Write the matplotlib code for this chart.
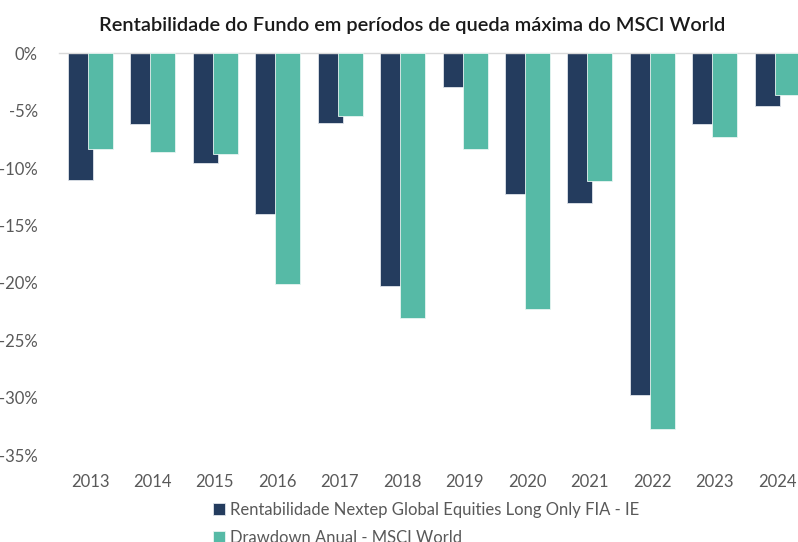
import matplotlib
matplotlib.use("Agg")
import matplotlib.pyplot as plt
import numpy as np

years = ["2013", "2014", "2015", "2016", "2017", "2018", "2019", "2020", "2021", "2022", "2023", "2024"]
fund = [-11.0, -6.2, -9.6, -14.0, -6.1, -20.3, -2.9, -12.3, -13.0, -29.8, -6.2, -4.6]
msci = [-8.3, -8.6, -8.8, -20.1, -5.5, -23.1, -8.3, -22.3, -11.1, -32.7, -7.3, -3.6]
yticks = [0, -5, -10, -15, -20, -25, -30, -35]
ytick_labels = ["0%", "-5%", "-10%", "-15%", "-20%", "-25%", "-30%", "-35%"]
series_names = ["Rentabilidade Nextep Global Equities Long Only FIA - IE",
                "Drawdown Anual - MSCI World"]
title = "Rentabilidade do Fundo em períodos de queda máxima do MSCI World"

plt.rcParams['font.family'] = ['Lato', 'DejaVu Sans']
navy = "#243C5E"
teal = "#56BAA6"
gray = "#595959"

W, H = 798, 542
fig = plt.figure(figsize=(W / 100, H / 100), dpi=100)
left = 58.8 / W
width = 749.4 / W
top = 1 - 53.3 / H
bottom = 1 - 455 / H
ax = fig.add_axes([left, bottom, width, top - bottom])

x = np.arange(len(years))
bw = 0.4
ax.bar(x - 0.155, fund, bw, color=navy, edgecolor="#dfe4ea", linewidth=0.6,
       label=series_names[0], zorder=2)
ax.bar(x + 0.165, msci, bw, color=teal, edgecolor="#e8f5f2", linewidth=0.6,
       label=series_names[1], zorder=3)

ax.set_xlim(-0.5, len(years) - 0.5)
ax.set_ylim(-35, 0)
ax.set_yticks(yticks)
ax.set_yticklabels(ytick_labels)
ax.set_xticks(x)
ax.set_xticklabels(years)

for s in ["left", "right", "bottom"]:
    ax.spines[s].set_visible(False)
ax.spines["top"].set_color("#d9d9d9")
ax.spines["top"].set_linewidth(1.0)
ax.tick_params(axis="both", length=0, colors=gray, labelsize=12)
ax.tick_params(axis="y", pad=15)
ax.tick_params(axis="x", pad=14)

fig.text(412.5 / W, 1 - 25 / H, title, ha="center", va="center",
         fontsize=14.4, fontweight="semibold", color="#1a1a1a")

leg = fig.legend(loc="upper left", bbox_to_anchor=(213 / W, 1 - 502 / H),
                 frameon=False, fontsize=12, handlelength=0.7, handleheight=0.7,
                 handletextpad=0.3, labelspacing=0.7, borderaxespad=0, borderpad=0)
for t in leg.get_texts():
    t.set_color(gray)

fig.savefig("out.png", dpi=100)
